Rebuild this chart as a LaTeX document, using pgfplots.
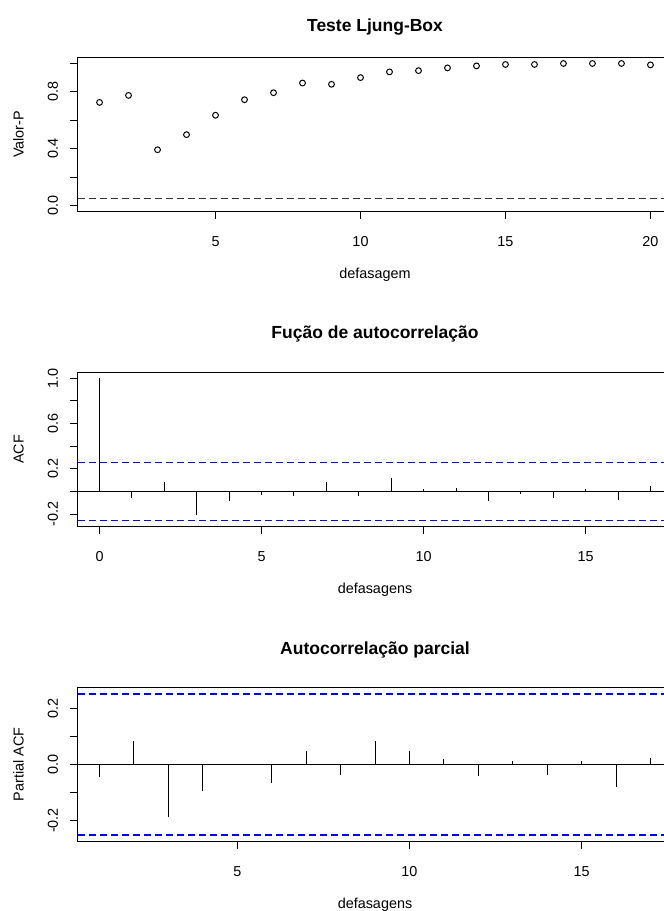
\documentclass[border=0pt]{standalone}
\usepackage{fontspec}
\setmainfont{Liberation Sans}
\usepackage{pgfplots}
\pgfplotsset{compat=1.18}
\definecolor{rblue}{RGB}{0,0,255}
\newcommand{\lblfont}{\fontsize{14.4}{16}\selectfont}
\newcommand{\ttlfont}{\fontsize{17.5}{20}\selectfont\bfseries}
\pgfplotsset{
  rplot/.style={
    scale only axis, width=595pt, height=154pt,
    axis line style={line width=1pt},
    every tick/.style={line width=1pt, black},
    major tick length=7.5pt, tick align=outside,
    xtick pos=left, ytick pos=left, minor tick num=0,
    tick label style={font=\lblfont},
    xticklabel style={anchor=base, inner sep=0pt, yshift=-27.5pt},
    yticklabel style={xshift=-11.9pt, rotate=90, anchor=south, inner sep=0pt},
    every axis x label/.style={at={(axis description cs:0.5,0)}, anchor=base, inner sep=0pt, yshift=-67pt, font=\lblfont},
    every axis y label/.style={at={(axis description cs:0,0.5)}, xshift=-53.5pt, rotate=90, anchor=south, inner sep=0pt, font=\lblfont},
    title style={font=\ttlfont, at={(0.5,1)}, anchor=base, inner sep=0pt},
    anchor=south west, clip=false,
  },
  conf/.style={color=rblue, line width=1.4pt, dash pattern=on 7pt off 4pt},
}
\begin{document}
\begin{tikzpicture}[x=1pt,y=1pt]
\path[use as bounding box] (0,0) rectangle (664,911);
\clip (0,0) rectangle (664,911);
% Panel 1
\begin{axis}[rplot, at={(77.5pt,699.5pt)},
  xmin=0.24, xmax=20.76, ymin=-0.04, ymax=1.04,
  xtick={5,10,15,20}, xticklabels={5,10,15,20},
  ytick={0,0.2,0.4,0.6,0.8,1.0}, yticklabels={0.0,,0.4,,0.8,},
  title={Teste Ljung-Box}, title style={yshift=20pt},
  xlabel={defasagem}, ylabel={Valor-P}]
\addplot[black!80, line width=1.2pt, dash pattern=on 7pt off 4pt] coordinates {(0.24,0.0512) (20.76,0.0512)};
\addplot[only marks, mark=o, mark size=2.9pt, mark options={line width=1pt, black}] coordinates {
(1,0.725) (2,0.774) (3,0.393) (4,0.499) (5,0.635) (6,0.744) (7,0.793) (8,0.861) (9,0.852) (10,0.899)
(11,0.939) (12,0.948) (13,0.967) (14,0.981) (15,0.991) (16,0.991) (17,0.998) (18,0.998) (19,0.998) (20,0.988)};
\end{axis}
% Panel 2
\begin{axis}[rplot, at={(77.5pt,384.5pt)},
  xmin=-0.68, xmax=17.68, ymin=-0.3088, ymax=1.05,
  xtick={0,5,10,15}, xticklabels={0,5,10,15},
  ytick={-0.2,0,0.2,0.4,0.6,0.8,1.0}, yticklabels={-0.2,,0.2,,0.6,,1.0},
  title={Fução de autocorrelação}, title style={yshift=27.5pt},
  xlabel={defasagens}, ylabel={ACF}]
\addplot[black, line width=1pt] coordinates {(-0.68,0) (17.68,0)};
\addplot[conf] coordinates {(-0.68,0.2559) (17.68,0.2559)};
\addplot[conf] coordinates {(-0.68,-0.2559) (17.68,-0.2559)};
\addplot[ycomb, black, line width=1pt, mark=none] coordinates {
(0,1.0) (1,-0.053) (2,0.080) (3,-0.204) (4,-0.080) (5,-0.030) (6,-0.044) (7,0.080) (8,-0.044)
(9,0.119) (10,0.021) (11,0.030) (12,-0.080) (13,-0.021) (14,-0.059) (15,0.018) (16,-0.071) (17,0.047)};
\end{axis}
% Panel 3
\begin{axis}[rplot, at={(77.5pt,69.5pt)},
  xmin=0.36, xmax=17.64, ymin=-0.2754, ymax=0.2754,
  xtick={5,10,15}, xticklabels={5,10,15},
  ytick={-0.2,-0.1,0,0.1,0.2}, yticklabels={-0.2,,0.0,,0.2},
  title={Autocorrelação parcial}, title style={yshift=27.5pt},
  xlabel={defasagens}, ylabel={Partial ACF}]
\addplot[black, line width=1pt] coordinates {(0.36,0) (17.64,0)};
\addplot[conf] coordinates {(0.36,0.2525) (17.64,0.2525)};
\addplot[conf] coordinates {(0.36,-0.2525) (17.64,-0.2525)};
\addplot[ycomb, black, line width=1pt, mark=none] coordinates {
(1,-0.046) (2,0.083) (3,-0.189) (4,-0.096) (5,0.002) (6,-0.067) (7,0.048) (8,-0.037) (9,0.083)
(10,0.048) (11,0.018) (12,-0.042) (13,0.012) (14,-0.037) (15,0.012) (16,-0.081) (17,0.023)};
\end{axis}
\end{tikzpicture}
\end{document}
